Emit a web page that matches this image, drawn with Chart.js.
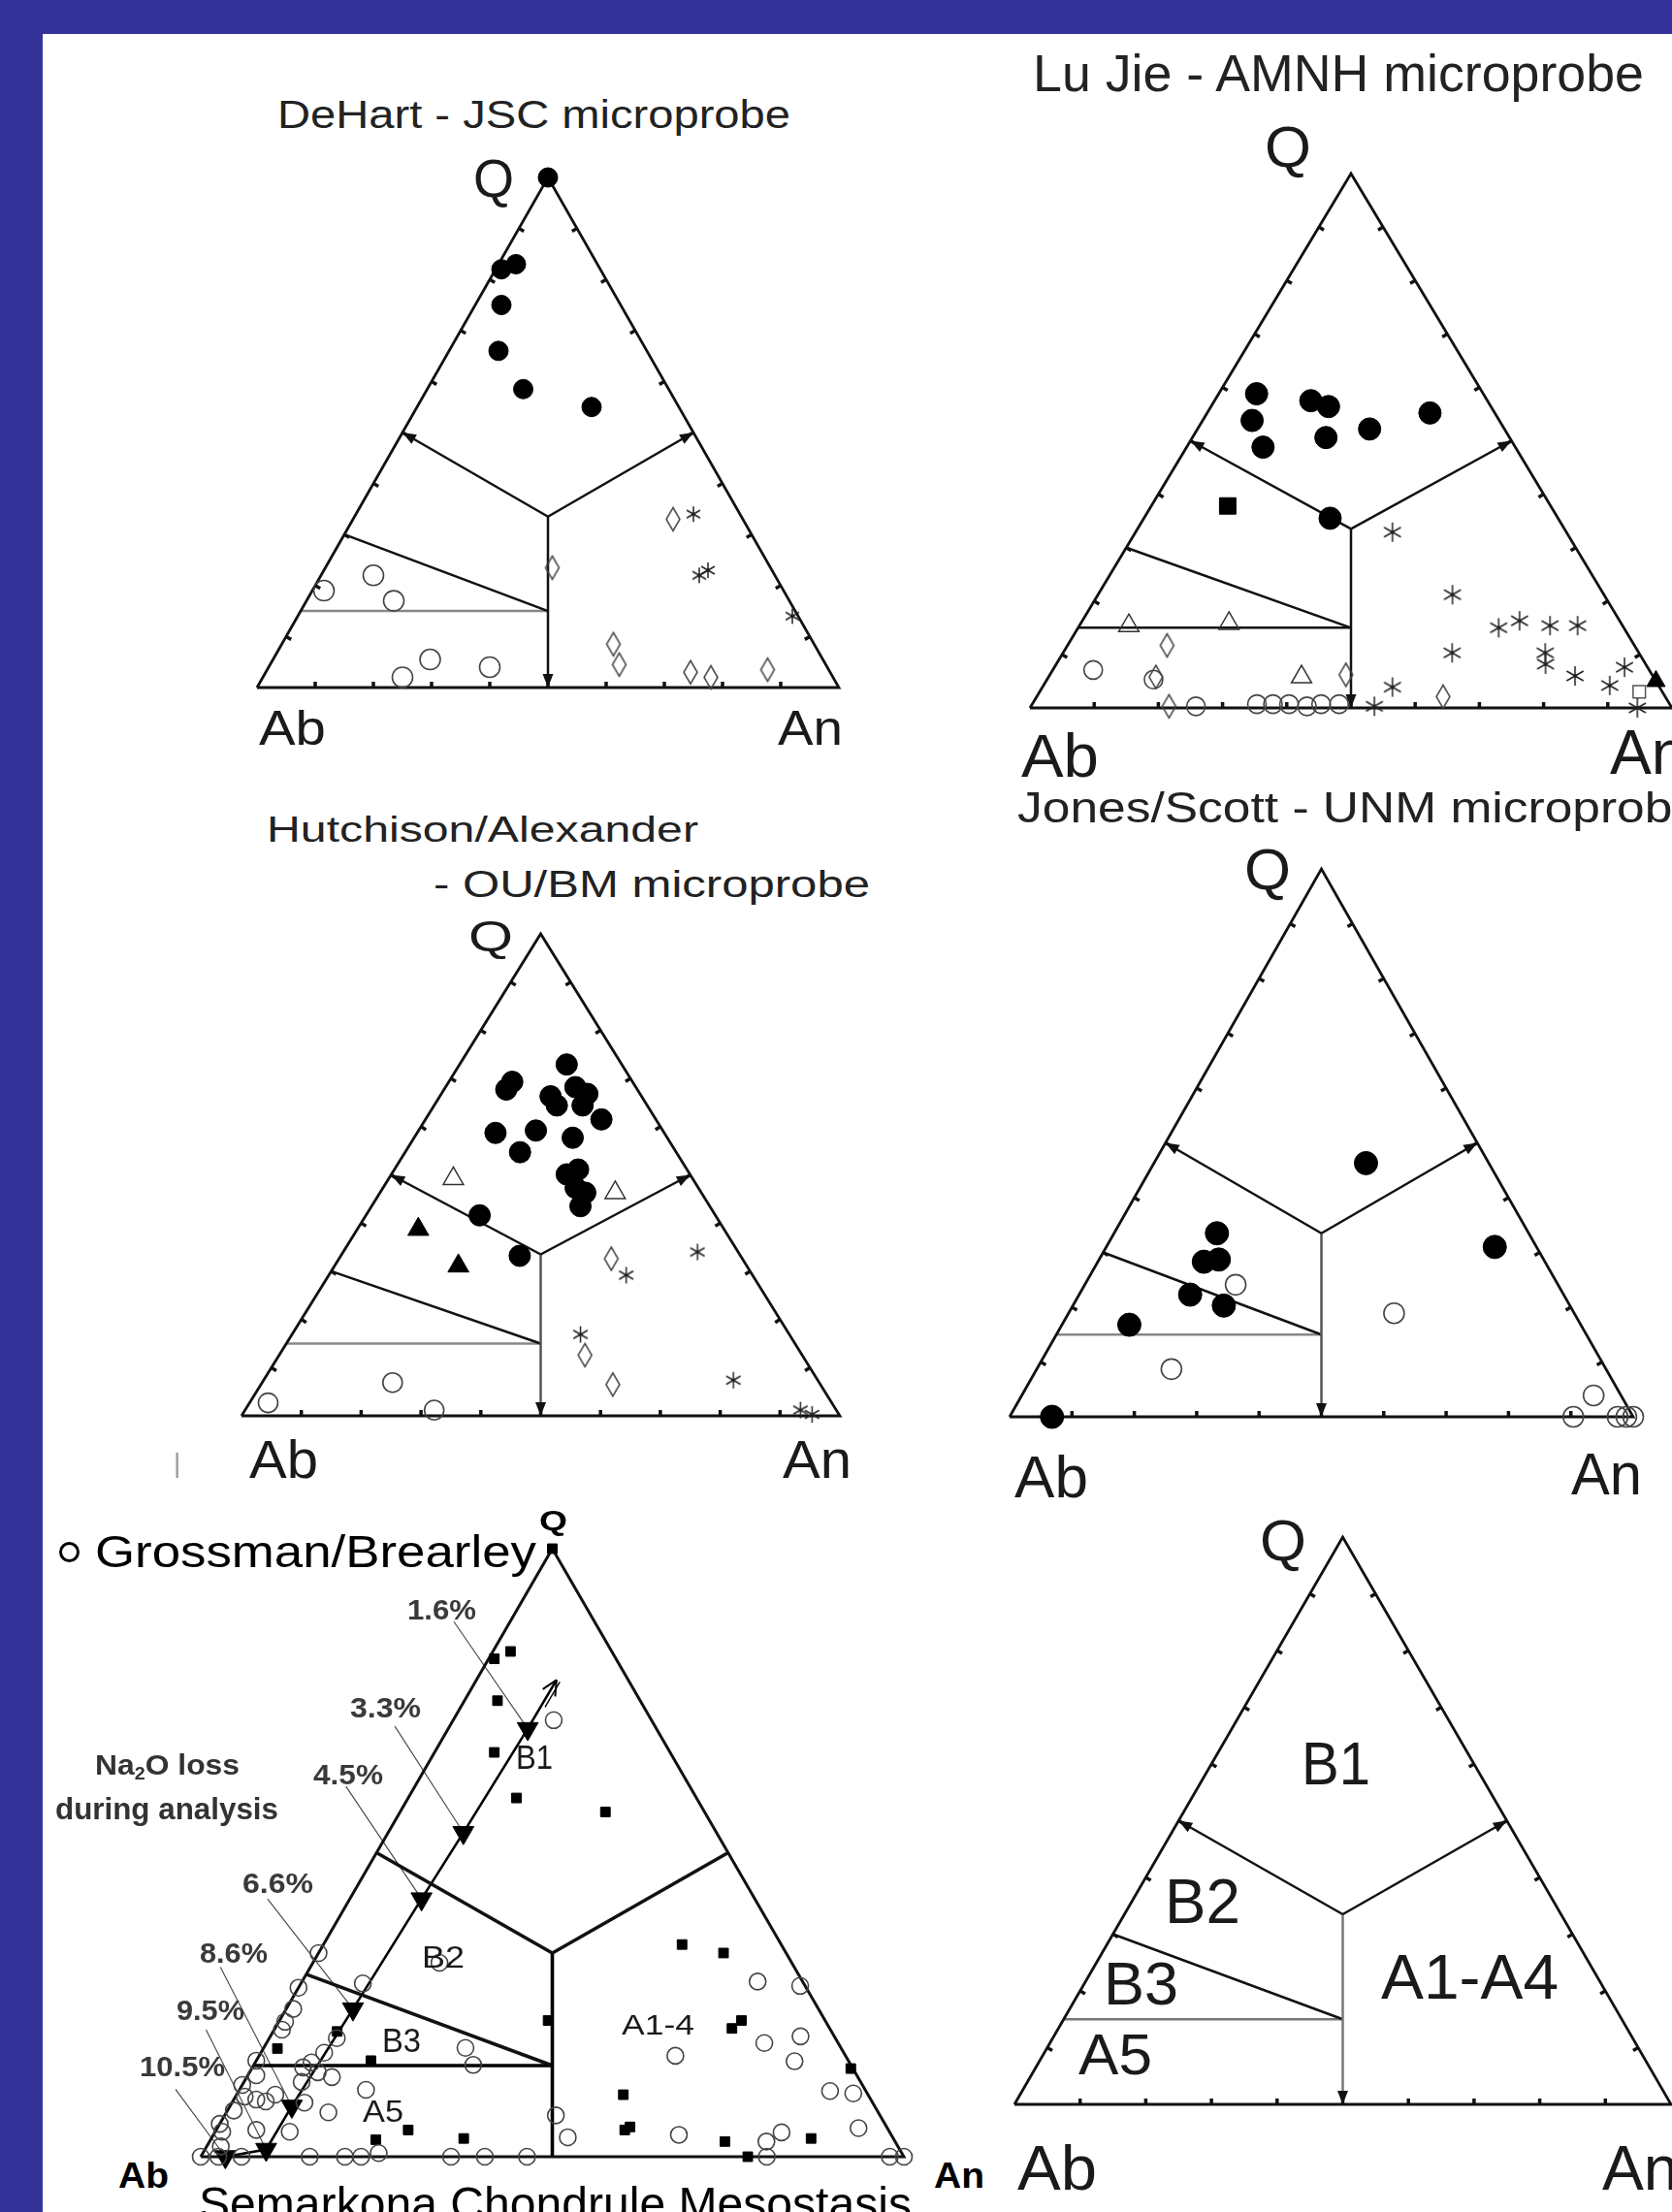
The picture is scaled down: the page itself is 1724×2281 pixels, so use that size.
<!DOCTYPE html>
<html>
<head>
<meta charset="utf-8">
<title>Q-Ab-An mesostasis plots</title>
<script src="https://cdn.jsdelivr.net/npm/chart.js@4.4.1/dist/chart.umd.min.js"></script>
<style>
  html, body { margin: 0; padding: 0; }
  body { position: relative; width: 1724px; height: 2281px; overflow: hidden; background: #333399;
         font-family: "Liberation Sans", Arial, Helvetica, sans-serif; }
  #sheet { position: absolute; left: 44px; top: 35px; width: 1680px; height: 2246px; background: #fff; }
  canvas { position: absolute; }
  .lbl { position: absolute; white-space: nowrap; line-height: 1; transform-origin: 0 0; color: #1a1a1a; }
  .lbl sub { font-size: 0.62em; line-height: 0; vertical-align: -0.28em; }
  #legendDot { position: absolute; left: 61px; top: 1590px; width: 15px; height: 15px;
               border: 3px solid #000; border-radius: 50%; }
</style>
</head>
<body>
<div id="sheet"></div>
<div id="legendDot"></div>
<script>
// all compositions are [Q, An] in percent, Ab is what is left
const tickSteps = [10, 20, 30, 40, 50, 60, 70, 80, 90];

const triangleOutline = [[0, 0], [0, 100], [100, 0], [0, 0]];
const junction = [33.5, 33.25];
const fieldB1B2 = [[50, 0], junction];
const fieldB1A = [[50, 50], junction];
const fieldBA = [junction, [0, 50]];
const fieldB2B3 = [[30, 0], [15, 42.5]];
const fieldB3A5 = [[15, 0], [15, 42.5]];

// DeHart - JSC
const dehartFilled = [[100, 0], [82, 1], [83, 3], [75, 4.5], [66, 8.5], [58.5, 16.5], [55, 30]];
const dehartOpen = [[19, 2], [22, 9], [17, 15], [2, 24], [5.5, 27], [4, 38]];
const dehartDiamond = [[33, 55], [23.5, 39], [8.5, 57], [4.5, 60], [3, 73], [2, 77], [3.5, 86]];
const dehartStar = [[34, 58], [22, 65], [23, 66], [14, 85]];

// Lu Jie - AMNH
const lujieFilled = [[58.8, 5.9], [53.8, 7.7], [48.8, 11.9], [57.5, 15], [56.4, 18.3], [50.6, 20.8],
  [52.2, 26.8], [55.2, 34.7], [35.5, 29]];
const lujieSquare = [[37.8, 11.9]];
const lujieSquareOpen = [[3, 93.4]];
const lujieStar = [[32.9, 40], [21.2, 55.2], [15, 65.5], [16.3, 68.1], [15.4, 73.3], [15.4, 77.6],
  [10.3, 60.6], [10.3, 75.1], [8.2, 76.2], [6, 81.9], [7.6, 88.8], [4.2, 88.2], [0, 94.6], [3.9, 54.5], [0.3, 53.5]];
const lujieTri = [[5, 95]];
const lujieTriOpen = [[15.4, 7.7], [15.8, 23.1], [5.8, 39.4]];
const lujieDiamond = [[11.7, 15.5], [5.8, 16.7], [0.3, 21.5], [6.2, 46.1], [2.1, 63.3]];
const lujieOpen = [[7.1, 6.3], [5.3, 16.6], [0.3, 25.7], [0.7, 35], [0.7, 37.5], [0.7, 40], [0.3, 43],
  [0.7, 45], [0.7, 47.8]];

// Hutchison/Alexander - OU/BM
const hutchFilled = [[67.7, 10.4], [69.3, 10.6], [72.9, 17.9], [66.3, 18.5], [64.4, 20.5], [68.2, 21.7],
  [66.8, 24.4], [64.4, 24.8], [61.5, 29.4], [58.7, 13.1], [59.2, 19.6], [54.7, 19.2], [57.7, 26.5],
  [50.1, 29.3], [51.1, 30.7], [47.3, 32.2], [46.3, 34.3], [43.5, 34.9], [41.6, 19], [33.2, 29.9]];
const hutchTri = [[38.7, 10.2], [31.1, 20.7]];
const hutchTriOpen = [[49.2, 10.8], [46.3, 39.3]];
const hutchDiamond = [[32.6, 45.5], [12.6, 51.1], [6.5, 58.8]];
const hutchStar = [[34, 59.2], [29.2, 49.7], [16.9, 48.2], [7.4, 78.5], [1.2, 92.8], [0.3, 95.2]];
const hutchOpen = [[6.9, 21.8], [1.2, 31.6], [2.7, 3.1]];

// Jones/Scott - UNM
const jonesFilled = [[46.3, 34], [31, 62.3], [33.5, 16.5], [28.3, 17], [28.7, 19.2], [22.3, 17.8],
  [20.3, 24.2], [16.8, 10.8], [0, 6.8]];
const jonesOpen = [[24.1, 24.2], [18.9, 52.2], [8.7, 21.6], [3.9, 91.7], [0, 90.4], [0, 97.5], [0, 98.9], [0, 100]];

// Grossman/Brearley, Semarkona
const grossOpen = [[71.8, 14.3], [33.5, 0], [31.9, 18], [28.5, 8.8], [17.9, 28.7], [15.1, 31.2], [11, 18],
  [7.3, 14.5], [4.1, 10.6], [0, 35.6], [0, 40.4], [0, 46.4], [3.2, 50.6], [6.8, 47.1], [3.6, 66.2],
  [16.6, 59.2], [28.8, 64.8], [28.1, 71.2], [18.7, 70.8], [19.8, 75.4], [15.7, 76.6], [10.8, 84.1],
  [10.4, 87.6], [4.7, 91.2], [4, 80.6], [2.5, 79.2], [0, 80.5], [0, 98], [0, 100],
  [27.8, 0], [24.3, 1], [22.2, 0.9], [20.9, 1.1], [19.5, 9.6], [17.1, 9], [15.5, 8], [14.7, 7.2],
  [13.9, 9.7], [13.1, 12.1], [12.3, 8.2], [15.8, 0], [13.4, 1.2], [11.8, 0], [9.9, 1.3], [9.4, 3.2],
  [9.1, 4.7], [10.2, 5.5], [8.9, 10.3], [7.6, 0.9], [5.4, 0], [4.1, 1], [4.4, 5.7], [1.7, 2], [0, 0],
  [0, 2.5], [0, 5.8], [0, 15.5], [0, 20.5], [0, 22.8], [0.6, 25]];
const grossSquare = [[100, 0], [81.9, 0.8], [83.1, 2.5], [75, 4.7], [66.5, 8.5], [59, 15.4], [56.7, 29.2],
  [34.9, 51], [33.5, 57.6], [22.4, 38.2], [21.1, 65], [22.4, 65.7], [14.5, 85.2], [17.8, 2], [20.6, 9.1],
  [15.8, 16.3], [10.2, 55], [4.4, 58.1], [4.9, 58.6], [4.4, 27.3], [2.8, 23.5], [3, 35.9], [2.5, 73.3],
  [3, 85.3], [0, 77.8]];
// Na2O loss trend, arrow tip first
const naLossPath = [[78.4, 11.4], [70.4, 11.3], [53.3, 10.7], [42.4, 10.2], [24.3, 9.5], [8.3, 8.8], [1.2, 8.7], [0, 3.5]];
const naLossLabels = ['1.6%', '3.3%', '4.5%', '6.6%', '8.6%', '9.5%', '10.5%'];
const naLossLeaderFrom = [[88, -8], [70.8, -7.8], [60.9, -9.8], [42.4, -11.7], [31.2, -12.8], [20.9, -9.7], [11.5, -9.6]];

const tern = ([q, an]) => ({ x: an / 100 + q / 200, y: q / 100 });

function diamondImg(w, h, color) {
  const c = document.createElement('canvas');
  c.width = w + 4; c.height = h + 4;
  const g = c.getContext('2d');
  g.strokeStyle = color; g.lineWidth = 1.5;
  g.beginPath();
  g.moveTo(c.width / 2, 2); g.lineTo(c.width - 2, c.height / 2);
  g.lineTo(c.width / 2, c.height - 2); g.lineTo(2, c.height / 2);
  g.closePath(); g.stroke();
  return c;
}

function asteriskImg(r, color) {
  const c = document.createElement('canvas');
  c.width = c.height = Math.ceil(2 * r + 4);
  const g = c.getContext('2d'), m = c.width / 2;
  g.strokeStyle = color; g.lineWidth = 1.5;
  [90, 30, 150].forEach(a => {
    const dx = Math.cos(a * Math.PI / 180) * r, dy = Math.sin(a * Math.PI / 180) * r;
    g.beginPath(); g.moveTo(m - dx, m - dy); g.lineTo(m + dx, m + dy); g.stroke();
  });
  g.fillStyle = color;
  g.beginPath(); g.arc(m, m, 2, 0, Math.PI * 2); g.fill();
  return c;
}

function markerStyle(kind, r) {
  const none = 'rgba(0,0,0,0)';
  switch (kind) {
    case 'filled': return { pointStyle: 'circle', pointRadius: r, pointBackgroundColor: '#000', pointBorderColor: '#000', pointBorderWidth: 1 };
    case 'open': return { pointStyle: 'circle', pointRadius: r, pointBackgroundColor: none, pointBorderColor: '#444', pointBorderWidth: 1.6 };
    case 'square': return { pointStyle: 'rect', pointRadius: r, pointBackgroundColor: '#000', pointBorderColor: '#000', pointBorderWidth: 1 };
    case 'squareOpen': return { pointStyle: 'rect', pointRadius: r, pointBackgroundColor: none, pointBorderColor: '#555', pointBorderWidth: 1.5 };
    case 'tri': return { pointStyle: 'triangle', pointRadius: r, pointBackgroundColor: '#000', pointBorderColor: '#000', pointBorderWidth: 1 };
    case 'triOpen': return { pointStyle: 'triangle', pointRadius: r, pointBackgroundColor: none, pointBorderColor: '#333', pointBorderWidth: 1.5 };
    case 'down': return { pointStyle: 'triangle', pointRotation: 180, pointRadius: r, pointBackgroundColor: '#000', pointBorderColor: '#000', pointBorderWidth: 1 };
    case 'diamond': return { pointStyle: diamondImg(Math.round(r * 1.15), Math.round(r * 2), '#444'), pointRadius: r };
    case 'star': return { pointStyle: asteriskImg(r, '#222'), pointRadius: r };
  }
}

function markers(data, kind, r) {
  return Object.assign({ data: data.map(tern), clip: false, order: 0 }, markerStyle(kind, r));
}

function segment(data, color, width) {
  return { data: data.map(tern), showLine: true, pointRadius: 0, borderColor: color, borderWidth: width,
           borderJoinStyle: 'miter', borderCapStyle: 'butt', clip: false, order: 10 };
}

const panels = [
  { ab: [265, 709], an: [865, 709], qy: 183, edgeW: 2.8, fieldW: 2.5, a5: '#888', vert: '#111', ticks: true,
    sets: [['star', dehartStar, 8], ['diamond', dehartDiamond, 12], ['open', dehartOpen, 10.5], ['filled', dehartFilled, 10]] },
  { ab: [1062, 730], an: [1724, 730], qy: 179, edgeW: 2.8, fieldW: 2.5, a5: '#111', vert: '#111', ticks: true,
    sets: [['star', lujieStar, 10], ['diamond', lujieDiamond, 12], ['open', lujieOpen, 9.5], ['triOpen', lujieTriOpen, 12],
           ['squareOpen', lujieSquareOpen, 9], ['tri', lujieTri, 11], ['square', lujieSquare, 12], ['filled', lujieFilled, 11.5]] },
  { ab: [249, 1460], an: [866, 1460], qy: 963, edgeW: 2.8, fieldW: 2.5, a5: '#888', vert: '#555', ticks: true,
    sets: [['star', hutchStar, 8.5], ['diamond', hutchDiamond, 12], ['open', hutchOpen, 10], ['triOpen', hutchTriOpen, 12],
           ['tri', hutchTri, 12.5], ['filled', hutchFilled, 11]] },
  { ab: [1041, 1461], an: [1684, 1461], qy: 896, edgeW: 2.8, fieldW: 2.5, a5: '#888', vert: '#555', ticks: true,
    sets: [['open', jonesOpen, 10.5], ['filled', jonesFilled, 12]] },
  { ab: [207, 2224], an: [932, 2224], qy: 1597, edgeW: 3, fieldW: 3.6, a5: '#000', vert: '#000', ticks: false,
    sets: [['open', grossOpen, 8.5], ['square', grossSquare, 7], ['down', naLossPath.slice(1), 12.5]], naLoss: true },
  { ab: [1046, 2170], an: [1723, 2170], qy: 1585, edgeW: 2.8, fieldW: 2.5, a5: '#777', vert: '#777', ticks: true, sets: [] }
];

// text: x, cap top, cap height, target width (page pixels)
const labels = [
  { t: 'DeHart - JSC microprobe', x: 286, y: 103, h: 29, w: 529, c: '#222' },
  { t: 'Q', x: 488, y: 163, h: 40, w: 42 },
  { t: 'Ab', x: 267, y: 733, h: 36, w: 69 },
  { t: 'An', x: 802, y: 733, h: 36, w: 67 },
  { t: 'Lu Jie - AMNH microprobe', x: 1065, y: 56, h: 38, w: 630, c: '#222' },
  { t: 'Q', x: 1304, y: 130, h: 43, w: 48 },
  { t: 'Ab', x: 1053, y: 756, h: 45, w: 80 },
  { t: 'An', x: 1660, y: 752, h: 46 },
  { t: 'Hutchison/Alexander', x: 275, y: 843, h: 26, w: 445, c: '#222' },
  { t: '- OU/BM microprobe', x: 447, y: 897, h: 28, w: 450, c: '#222' },
  { t: 'Q', x: 483, y: 950, h: 32, w: 46 },
  { t: 'Ab', x: 257, y: 1484, h: 40, w: 71 },
  { t: 'An', x: 807, y: 1484, h: 40, w: 71 },
  { t: '|', x: 179, y: 1499, h: 20, c: '#999' },
  { t: 'Jones/Scott - UNM microprobe', x: 1049, y: 817, h: 32, w: 704, c: '#222' },
  { t: 'Q', x: 1283, y: 875, h: 43, w: 48 },
  { t: 'Ab', x: 1046, y: 1500, h: 44, w: 76 },
  { t: 'An', x: 1620, y: 1497, h: 44, w: 73 },
  { t: 'Grossman/Brearley', x: 98, y: 1583, h: 33, w: 455, c: '#000' },
  { t: 'Q', x: 556, y: 1557, h: 21, w: 29, b: true, c: '#000' },
  { t: 'Ab', x: 122, y: 2231, h: 26, w: 52, b: true, c: '#000' },
  { t: 'An', x: 963, y: 2231, h: 26, w: 52, b: true, c: '#000' },
  { t: 'Semarkona Chondrule Mesostasis', x: 205, y: 2255, h: 34, w: 735, c: '#000' },
  { html: 'Na<sub>2</sub>O loss', x: 98, y: 1809, h: 21, w: 149, b: true, c: '#333' },
  { t: 'during analysis', x: 57, y: 1855, h: 22, w: 230, b: true, c: '#333' },
  { t: 'B1', x: 532, y: 1800, h: 25, w: 38 },
  { t: 'B2', x: 435, y: 2006, h: 23, w: 44 },
  { t: 'B3', x: 394, y: 2092, h: 25, w: 40 },
  { t: 'A5', x: 374, y: 2165, h: 23, w: 42 },
  { t: 'A1-4', x: 641, y: 2077, h: 21, w: 75 },
  { t: 'Q', x: 1299, y: 1568, h: 42, w: 48 },
  { t: 'B1', x: 1342, y: 1795, h: 45, w: 71 },
  { t: 'B2', x: 1201, y: 1937, h: 46, w: 78 },
  { t: 'B3', x: 1138, y: 2022, h: 45, w: 77 },
  { t: 'A5', x: 1112, y: 2098, h: 42, w: 76 },
  { t: 'A1-A4', x: 1424, y: 2015, h: 46, w: 183 },
  { t: 'Ab', x: 1049, y: 2212, h: 46, w: 82 },
  { t: 'An', x: 1652, y: 2212, h: 46 }
];
const naLabelPos = [[420, 1649, 71], [361, 1750, 73], [323, 1819, 72], [250, 1931, 73], [206, 2003, 70], [182, 2062, 70], [144, 2120, 88]];
naLossLabels.forEach((t, i) => {
  const [x, y, w] = naLabelPos[i];
  labels.push({ t, x, y, h: 21.5, w, b: true, c: '#3a3a3a' });
});

const toPx = chart => ([q, an]) => [chart.scales.x.getPixelForValue(an / 100 + q / 200),
                                    chart.scales.y.getPixelForValue(q / 100)];

function makeDecor(cfg) {
  return {
    id: 'triDecor',
    beforeDatasetsDraw(chart) {
      if (!cfg.naLoss) return;
      const ctx = chart.ctx, P = toPx(chart);
      ctx.save();
      ctx.strokeStyle = '#444'; ctx.lineWidth = 1.1;
      naLossLeaderFrom.forEach((from, i) => {
        const a = P(from), b = P(naLossPath[i + 1]);
        ctx.beginPath(); ctx.moveTo(a[0], a[1]); ctx.lineTo(b[0], b[1]); ctx.stroke();
      });
      ctx.restore();
    },
    afterDatasetsDraw(chart) {
      const ctx = chart.ctx, P = toPx(chart);
      ctx.save();
      if (cfg.ticks) {
        const A = P([0, 0]), B = P([0, 100]), C = P([100, 0]);
        const cx = (A[0] + B[0] + C[0]) / 3, cy = (A[1] + B[1] + C[1]) / 3;
        ctx.strokeStyle = '#111'; ctx.lineWidth = 3.5;
        const edges = [[[0, 0], [0, 100], t => [0, t]], [[0, 0], [100, 0], t => [t, 0]], [[0, 100], [100, 0], t => [t, 100 - t]]];
        edges.forEach(([e0, e1, at]) => {
          const a = P(e0), b = P(e1);
          const L = Math.hypot(b[0] - a[0], b[1] - a[1]);
          let nx = -(b[1] - a[1]) / L, ny = (b[0] - a[0]) / L;
          if ((cx - (a[0] + b[0]) / 2) * nx + (cy - (a[1] + b[1]) / 2) * ny < 0) { nx = -nx; ny = -ny; }
          tickSteps.forEach(t => {
            const p = P(at(t));
            ctx.beginPath(); ctx.moveTo(p[0], p[1]); ctx.lineTo(p[0] + nx * 6, p[1] + ny * 6); ctx.stroke();
          });
        });
        // arrowheads where the field boundaries meet the edges
        ctx.fillStyle = '#111';
        [[junction, [50, 0]], [junction, [50, 50]], [junction, [0, 50]]].forEach(([f, t]) => {
          const a = P(f), b = P(t);
          const L = Math.hypot(b[0] - a[0], b[1] - a[1]);
          const ux = (b[0] - a[0]) / L, uy = (b[1] - a[1]) / L;
          ctx.beginPath();
          ctx.moveTo(b[0], b[1]);
          ctx.lineTo(b[0] - ux * 14 - uy * 5.5, b[1] - uy * 14 + ux * 5.5);
          ctx.lineTo(b[0] - ux * 14 + uy * 5.5, b[1] - uy * 14 - ux * 5.5);
          ctx.closePath(); ctx.fill();
        });
      }
      if (cfg.naLoss) {
        // open arrow head on the Na2O loss trend
        const a = P(naLossPath[1]), b = P(naLossPath[0]);
        const L = Math.hypot(b[0] - a[0], b[1] - a[1]);
        const ux = (b[0] - a[0]) / L, uy = (b[1] - a[1]) / L;
        ctx.strokeStyle = '#000'; ctx.lineWidth = 2;
        [0.45, -0.45].forEach(ang => {
          const c = Math.cos(ang), s = Math.sin(ang);
          const vx = -(ux * c - uy * s), vy = -(ux * s + uy * c);
          ctx.beginPath(); ctx.moveTo(b[0], b[1]); ctx.lineTo(b[0] + vx * 17, b[1] + vy * 17); ctx.stroke();
        });
        ctx.lineWidth = 1.4;
        ctx.beginPath(); ctx.moveTo(b[0] - uy * 4, b[1] + ux * 4); ctx.lineTo(b[0] - uy * 4 - ux * 30, b[1] + ux * 4 - uy * 30); ctx.stroke();
      }
      ctx.restore();
    }
  };
}

function buildPanel(cfg) {
  const pad = 26;
  const w = cfg.an[0] - cfg.ab[0], h = cfg.ab[1] - cfg.qy;
  const cv = document.createElement('canvas');
  cv.width = Math.round(w + 2 * pad); cv.height = Math.round(h + 2 * pad);
  cv.style.left = (cfg.ab[0] - pad) + 'px';
  cv.style.top = (cfg.qy - pad) + 'px';
  cv.style.width = cv.width + 'px';
  cv.style.height = cv.height + 'px';
  document.body.appendChild(cv);

  const datasets = cfg.sets.map(([kind, data, r]) => markers(data, kind, r));
  datasets.push(
    segment(triangleOutline, '#111', cfg.edgeW),
    segment(fieldB1B2, '#111', cfg.fieldW),
    segment(fieldB1A, '#111', cfg.fieldW),
    segment(fieldBA, cfg.vert, cfg.fieldW),
    segment(fieldB2B3, '#111', cfg.fieldW),
    segment(fieldB3A5, cfg.a5, cfg.fieldW)
  );
  if (cfg.naLoss) datasets.push(segment(naLossPath, '#000', 2.6));

  new Chart(cv, {
    type: 'scatter',
    data: { datasets },
    options: {
      responsive: false,
      animation: false,
      devicePixelRatio: 1,
      events: [],
      layout: { padding: pad },
      plugins: { legend: { display: false }, tooltip: { enabled: false } },
      scales: {
        x: { type: 'linear', min: 0, max: 1, display: false },
        y: { type: 'linear', min: 0, max: 1, display: false }
      }
    },
    plugins: [makeDecor(cfg)]
  });
}

panels.forEach(buildPanel);

labels.forEach(l => {
  const F = l.h / 0.716;
  const d = document.createElement('div');
  d.className = 'lbl';
  if (l.html) d.innerHTML = l.html; else d.textContent = l.t;
  d.style.fontSize = F + 'px';
  d.style.fontWeight = l.b ? 'bold' : 'normal';
  if (l.c) d.style.color = l.c;
  d.style.left = l.x + 'px';
  d.style.top = (l.y + l.h - 0.8465 * F) + 'px';
  document.body.appendChild(d);
  if (l.w) d.style.transform = 'scaleX(' + (l.w / d.getBoundingClientRect().width) + ')';
});
</script>
</body>
</html>
